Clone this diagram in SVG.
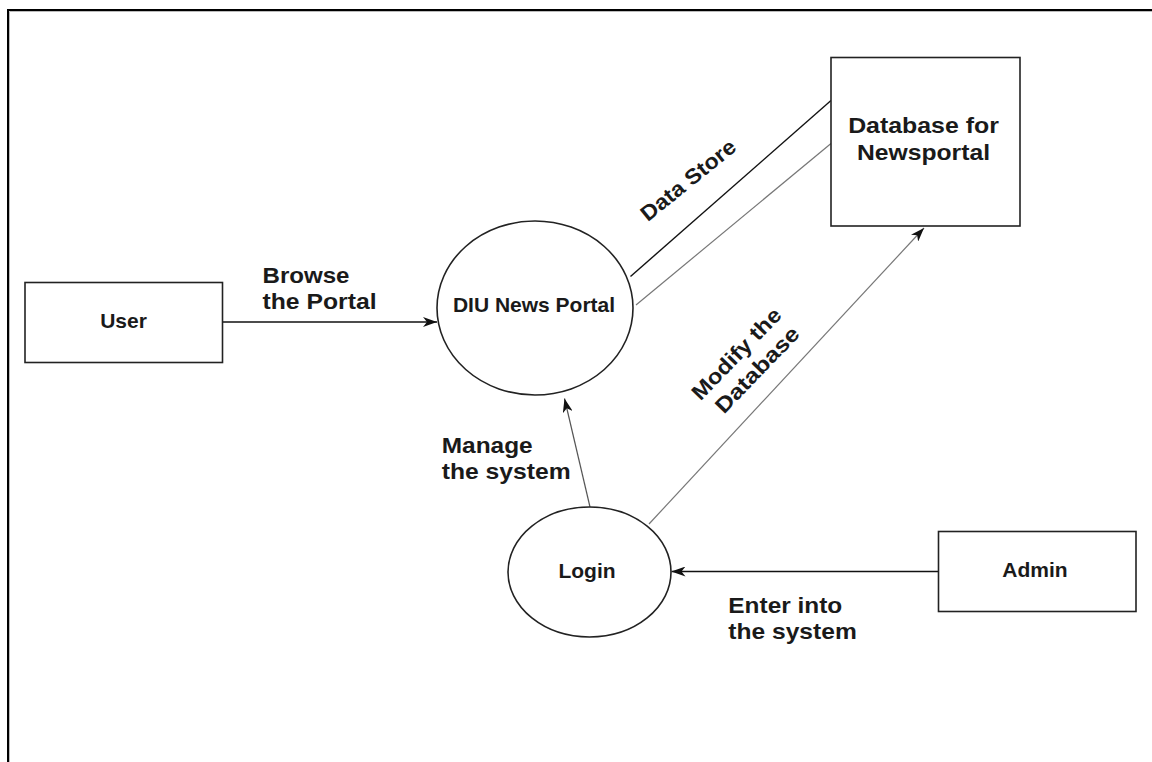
<svg xmlns="http://www.w3.org/2000/svg" width="1152" height="762" viewBox="0 0 1152 762">
<style>
.node{fill:#fff;stroke:#222;stroke-width:1.6}
.nt{font-family:"Liberation Sans",Arial,sans-serif;font-weight:bold;font-size:21px;fill:#1a1a1a;text-anchor:middle}
.lt{font-family:"Liberation Sans",Arial,sans-serif;font-weight:bold;font-size:21.5px;fill:#1a1a1a}
.dark{stroke:#111;stroke-width:1.4;fill:none}
.gray{stroke:#777;stroke-width:1.2;fill:none}
</style>
<defs>
<marker id="arrD" viewBox="0 0 14 10" refX="14" refY="5" markerWidth="14" markerHeight="10" orient="auto" markerUnits="userSpaceOnUse"><path d="M0,0 L14,5 L0,10 L4,5 Z" fill="#111"/></marker>
<marker id="arrG" viewBox="0 0 14 10" refX="14" refY="5" markerWidth="14" markerHeight="10" orient="auto" markerUnits="userSpaceOnUse"><path d="M0,0 L14,5 L0,10 L4,5 Z" fill="#111"/></marker>
</defs>
<rect x="0" y="0" width="1152" height="762" fill="#fff"/>
<g id="frame">
<path d="M8,762 V10 H1152" fill="none" stroke="#000" stroke-width="2"/>
<path d="M9.5,762 V11.5 H1152" fill="none" stroke="#bbb" stroke-width="1"/>
</g>
<g id="connectors">
<line class="dark" x1="222.5" y1="322" x2="437" y2="322" marker-end="url(#arrD)"/>
<line class="dark" x1="630.5" y1="276.5" x2="831" y2="100.5"/>
<line class="gray" x1="636" y1="305" x2="831" y2="143.5"/>
<line class="gray" x1="590" y1="507" x2="564.5" y2="398.5" marker-end="url(#arrG)" style="stroke:#555"/>
<line class="gray" x1="649" y1="524" x2="924" y2="228" marker-end="url(#arrG)"/>
<line class="dark" x1="938.5" y1="571.5" x2="671.5" y2="571.5" marker-end="url(#arrD)"/>
</g>
<g id="labels">
<text class="lt" x="262.5" y="283.3" textLength="87" lengthAdjust="spacingAndGlyphs">Browse</text>
<text class="lt" x="262.5" y="309.3" textLength="114" lengthAdjust="spacingAndGlyphs">the Portal</text>
<text class="lt" x="441.7" y="452.7" textLength="91" lengthAdjust="spacingAndGlyphs">Manage</text>
<text class="lt" x="441.7" y="478.7" textLength="129" lengthAdjust="spacingAndGlyphs">the system</text>
<text class="lt" x="728.3" y="612.7" textLength="114" lengthAdjust="spacingAndGlyphs">Enter into</text>
<text class="lt" x="728.3" y="638.7" textLength="128.5" lengthAdjust="spacingAndGlyphs">the system</text>
<g transform="translate(688,180) rotate(-39)">
<text class="lt" x="0" y="7.5" text-anchor="middle" textLength="116" lengthAdjust="spacingAndGlyphs">Data Store</text>
</g>
<g transform="translate(747,362) rotate(-46)">
<text class="lt" x="-1.5" y="-6" text-anchor="middle" textLength="118.6" lengthAdjust="spacingAndGlyphs">Modify the</text>
<text class="lt" x="1.5" y="20" text-anchor="middle" textLength="110.8" lengthAdjust="spacingAndGlyphs">Database</text>
</g>
</g>
<g id="user">
<rect class="node" x="25" y="282.5" width="197.5" height="80"/>
<text class="nt" x="123.5" y="327.7">User</text>
</g>
<g id="diu-news-portal">
<ellipse class="node" cx="535" cy="308" rx="98" ry="87"/>
<text class="nt" x="534" y="311.7">DIU News Portal</text>
</g>
<g id="database">
<rect class="node" x="831" y="57.5" width="189" height="168.5"/>
<text class="lt" x="923.5" y="133.3" text-anchor="middle" textLength="150.7" lengthAdjust="spacingAndGlyphs">Database for</text>
<text class="lt" x="923.5" y="160" text-anchor="middle" textLength="133" lengthAdjust="spacingAndGlyphs">Newsportal</text>
</g>
<g id="login">
<ellipse class="node" cx="589.5" cy="572" rx="81.5" ry="65"/>
<text class="nt" x="587" y="578.3">Login</text>
</g>
<g id="admin">
<rect class="node" x="938.5" y="531.5" width="197.5" height="80"/>
<text class="nt" x="1035" y="577.3">Admin</text>
</g>
</svg>
